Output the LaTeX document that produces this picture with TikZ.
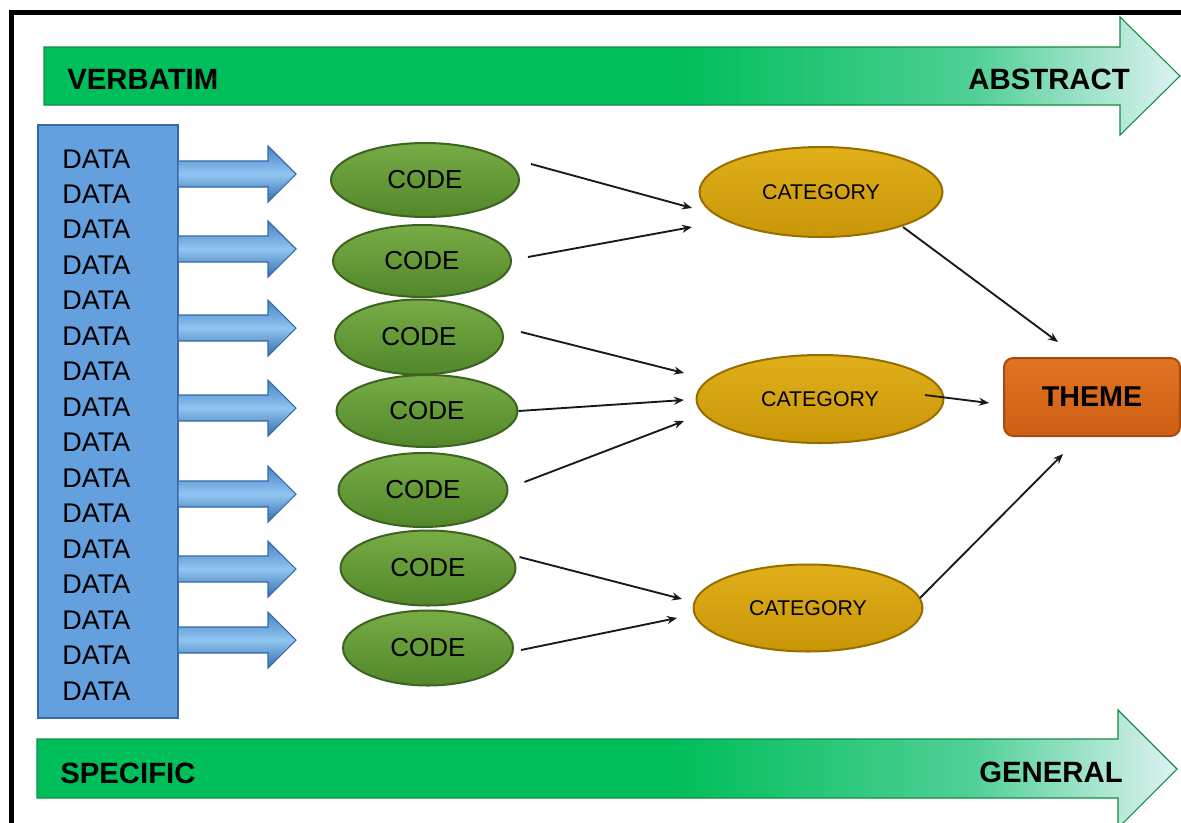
\documentclass[tikz,border=0pt]{standalone}
\usepackage{fontspec}
\setmainfont{Liberation Sans}
\usetikzlibrary{shapes.geometric,arrows.meta,calc}

\definecolor{barGreen}{RGB}{0,190,90}
\definecolor{barMint}{RGB}{80,208,150}
\definecolor{barPale}{RGB}{222,242,242}
\definecolor{barEdge}{RGB}{20,140,70}
\definecolor{dataBlue}{RGB}{100,160,222}
\definecolor{dataEdge}{RGB}{55,105,165}
\definecolor{arrBlueTop}{RGB}{70,130,195}
\definecolor{arrBlueMid}{RGB}{145,198,242}
\definecolor{arrBlueBot}{RGB}{55,110,170}
\definecolor{codeTop}{RGB}{120,172,70}
\definecolor{codeBot}{RGB}{82,135,42}
\definecolor{codeEdge}{RGB}{60,100,32}
\definecolor{catTop}{RGB}{225,175,25}
\definecolor{catBot}{RGB}{200,150,8}
\definecolor{catEdge}{RGB}{150,110,0}
\definecolor{themeTop}{RGB}{225,115,35}
\definecolor{themeBot}{RGB}{205,95,20}
\definecolor{themeEdge}{RGB}{165,75,15}
\definecolor{linkGray}{RGB}{25,25,25}

% green-to-pale fill of the two long scale arrows
% (the path spans 25bp..75bp of the shading)
\pgfdeclarehorizontalshading{barshade}{100bp}{color(0bp)=(barGreen); color(25bp)=(barGreen); color(53bp)=(barGreen); color(66bp)=(barMint); color(75bp)=(barPale); color(100bp)=(barPale)}

\tikzset{
  codenode/.style={ellipse, draw=codeEdge, line width=1.5pt, top color=codeTop, bottom color=codeBot,
    inner sep=0pt, font=\fontsize{19.5pt}{22pt}\selectfont},
  catnode/.style={ellipse, draw=catEdge, line width=1.5pt, top color=catTop, bottom color=catBot,
    inner sep=0pt, font=\fontsize{16pt}{19pt}\selectfont},
  themenode/.style={rectangle, rounded corners=7pt, draw=themeEdge, line width=1.5pt,
    top color=themeTop, bottom color=themeBot, inner sep=0pt,
    font=\bfseries\fontsize{21.5pt}{24pt}\selectfont},
  databox/.style={rectangle, fill=dataBlue, draw=dataEdge, line width=1.5pt, inner sep=0pt},
  barlabel/.style={font=\bfseries\fontsize{22pt}{26pt}\selectfont, inner sep=0pt},
  datalabel/.style={font=\fontsize{20.25pt}{24pt}\selectfont, inner sep=0pt, anchor=base west},
  link/.style={draw=linkGray, line width=1.4pt, -{Stealth[length=7.5pt,width=6pt]}},
  bigbar/.style={draw=barEdge, line width=0.8pt, shading=barshade},
  blockarrow/.style={draw=dataEdge, line width=0.8pt, top color=arrBlueTop, bottom color=arrBlueBot,
    middle color=arrBlueMid},
}

\begin{document}
\begin{tikzpicture}[x=0.75pt,y=-0.75pt]
\useasboundingbox (0,0) rectangle (1181,822);

% outer frame (open towards right and bottom)
\draw[line width=3.75pt] (11,840) -- (11,12.5) -- (1195,12.5);

% scale arrows
\shade[bigbar] (44,47) -- (1120,47) -- (1120,17) -- (1180,76) -- (1120,135) -- (1120,105) -- (44,105) -- cycle;
\shade[bigbar] (37,739) -- (1118,739) -- (1118,710) -- (1177,769) -- (1118,828) -- (1118,798) -- (37,798) -- cycle;
\node[barlabel, anchor=base west] (verbatim) at (67,89) {VERBATIM};
\node[barlabel, anchor=base east] (abstract) at (1130,89) {ABSTRACT};
\node[barlabel, anchor=base west] (specific) at (60,783) {SPECIFIC};
\node[barlabel, anchor=base east] (general) at (1123,782) {GENERAL};

% data column
\node[databox, minimum width=140*0.75pt, minimum height=593*0.75pt] (data) at (108,421.5) {};
\foreach \i in {0,...,15}
  \node[datalabel] (d\i) at (62,168+35.47*\i) {DATA};

% block arrows from the data column
\foreach \y in {174,249,328,408,494,569,640}
  \path[blockarrow] (178,\y-13) -- (268,\y-13) -- (268,\y-28) -- (296,\y)
        -- (268,\y+28) -- (268,\y+13) -- (178,\y+13) -- cycle;

% codes
\node[codenode, minimum width=188*0.75pt, minimum height=74*0.75pt] (c1) at (425,180) {CODE};
\node[codenode, minimum width=178*0.75pt, minimum height=72*0.75pt] (c2) at (422,261) {CODE};
\node[codenode, minimum width=168*0.75pt, minimum height=75*0.75pt] (c3) at (419,337) {CODE};
\node[codenode, minimum width=181*0.75pt, minimum height=72*0.75pt] (c4) at (427,411) {CODE};
\node[codenode, minimum width=169*0.75pt, minimum height=74*0.75pt] (c5) at (423,490) {CODE};
\node[codenode, minimum width=175*0.75pt, minimum height=75*0.75pt] (c6) at (428,568) {CODE};
\node[codenode, minimum width=170*0.75pt, minimum height=75*0.75pt] (c7) at (428,648) {CODE};

% categories
\node[catnode, minimum width=243*0.75pt, minimum height=90*0.75pt] (k1) at (821,192) {CATEGORY};
\node[catnode, minimum width=247*0.75pt, minimum height=88*0.75pt] (k2) at (820,399) {CATEGORY};
\node[catnode, minimum width=229*0.75pt, minimum height=87*0.75pt] (k3) at (808,608) {CATEGORY};

% theme
\node[themenode, minimum width=176*0.75pt, minimum height=78*0.75pt] (theme) at (1092,397) {THEME};

% codes to categories
\draw[link] ($(c1.east)+(11,-16)$) -- ($(k1.west)+(-6.5,16)$);
\draw[link] ($(c2.east)+(16,-4)$) -- ($(k1.west)+(-6.5,35)$);
\draw[link] ($(c3.east)+(17,-5)$) -- ($(k2.west)+(-11.5,-26)$);
\draw[link] (c4.east) -- ($(k2.west)+(-11.5,1)$);
\draw[link] ($(c5.east)+(16,-8)$) -- ($(k2.west)+(-11.5,22)$);
\draw[link] ($(c6.east)+(3,-11)$) -- ($(k3.west)+(-10.5,-9)$);
\draw[link] ($(c7.east)+(7,2)$) -- ($(k3.west)+(-15.5,10)$);

% categories to theme
\draw[link] ($(k1.center)+(82,35)$) -- ($(theme.north)+(-34,-15)$);
\draw[link] ($(k2.center)+(105,-4)$) -- ($(theme.west)+(-14,6)$);
\draw[link] ($(k3.center)+(112,-10)$) -- ($(theme.south)+(-29,17)$);
\end{tikzpicture}
\end{document}
